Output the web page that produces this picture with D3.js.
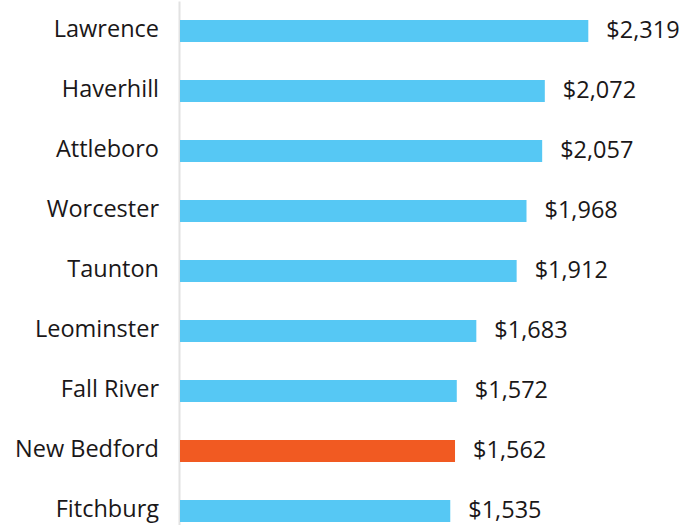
<!DOCTYPE html>
<html>
<head>
<meta charset="utf-8">
<script src="https://cdn.jsdelivr.net/npm/d3@7"></script>
<style>
  body { margin: 0; background: #fff; }
  svg text { font-family: "Open Sans", sans-serif; }
</style>
</head>
<body>
<div id="chart-area"></div>
<script>
// data
const cities = ["Lawrence", "Haverhill", "Attleboro", "Worcester", "Taunton",
                "Leominster", "Fall River", "New Bedford", "Fitchburg"];
const costs = [2319, 2072, 2057, 1968, 1912, 1683, 1572, 1562, 1535];
const highlight = ["New Bedford"];

const data = cities.map(function(c, i){ return { name: c, value: costs[i] }; });

const margin = { left: 180, right: 0, top: 0, bottom: 0 };
const width = 697 - margin.left - margin.right,
    height = 525 - margin.top - margin.bottom;

var svg = d3.select("#chart-area")
    .append("svg")
    .attr("width", 697)
    .attr("height", 525);

const g = svg.append("g")
    .attr("transform", "translate(" + margin.left + ", " + margin.top + ")");

const x = d3.scaleLinear()
    .domain([0, 2319])
    .range([0, 408.3]);

const y = d3.scaleBand()
    .domain(cities)
    .range([1, 541])
    .padding(0);

const barH = 22;

// axis with category labels
var yAxisCall = d3.axisLeft(y)
    .tickSize(0)
    .tickPadding(21);
const yAxis = g.append("g")
    .attr("class", "y-axis")
    .call(yAxisCall);
yAxis.select(".domain")
    .attr("stroke", "#e2e2e2")
    .attr("stroke-width", 2)
    .attr("transform", "translate(-1,0)");
yAxis.selectAll("text")
    .attr("font-size", "23.5px")
    .attr("fill", "#1a1718")
    .attr("dy", "0.26em")
    .attr("font-family", "Open Sans, sans-serif");

g.selectAll("rect.bar")
    .data(data)
    .enter()
    .append("rect")
        .attr("class", "bar")
        .attr("x", 0)
        .attr("y", function(d){ return y(d.name) + (y.bandwidth() - barH) / 2; })
        .attr("width", function(d){ return x(d.value); })
        .attr("height", barH)
        .attr("fill", function(d){ return highlight.indexOf(d.name) >= 0 ? "#f15a22" : "#56c8f4"; });

g.selectAll("text.val")
    .data(data)
    .enter()
    .append("text")
        .attr("class", "val")
        .attr("x", function(d){ return x(d.value) + 18; })
        .attr("y", function(d){ return y(d.name) + y.bandwidth() / 2; })
        .attr("dy", "0.3em")
        .attr("font-size", "23.5px")
        .attr("fill", "#1a1718")
        .text(function(d){ return "$" + d3.format(",")(d.value); });
</script>
</body>
</html>
